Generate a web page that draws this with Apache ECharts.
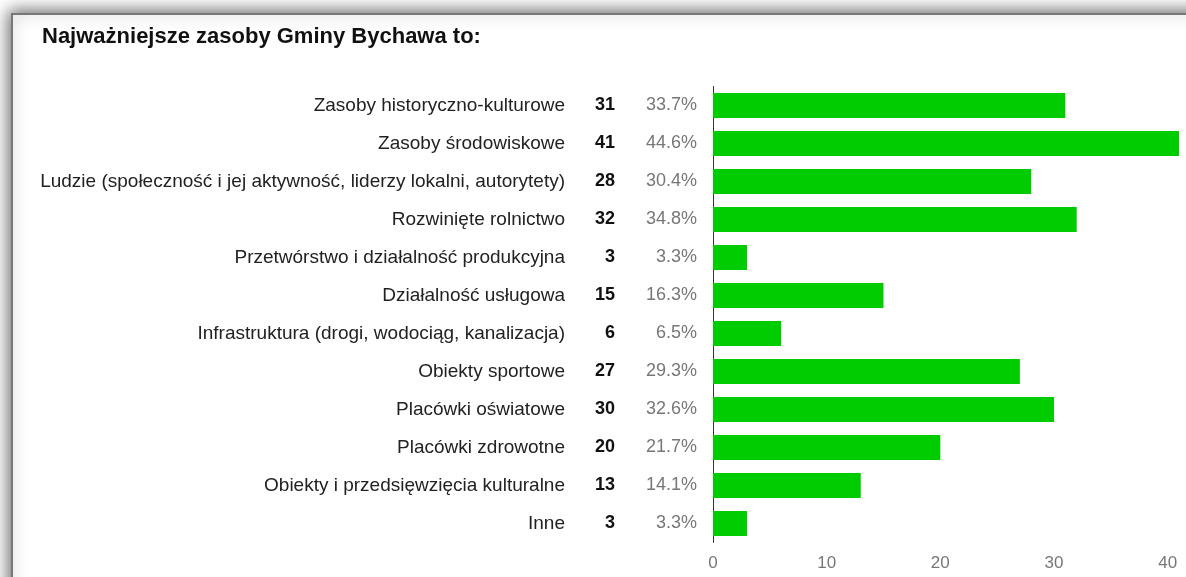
<!DOCTYPE html>
<html>
<head>
<meta charset="utf-8">
<script src="https://cdn.jsdelivr.net/npm/echarts@6/dist/echarts.min.js"></script>
<style>
  html, body { margin: 0; padding: 0; background: #fff; }
  #chart { width: 1186px; height: 577px; }
</style>
</head>
<body>
<div id="chart"></div>
<script>
// answers (categories), counts and shares
var categories = [
    'Zasoby historyczno-kulturowe',
    'Zasoby środowiskowe',
    'Ludzie (społeczność i jej aktywność, liderzy lokalni, autorytety)',
    'Rozwinięte rolnictwo',
    'Przetwórstwo i działalność produkcyjna',
    'Działalność usługowa',
    'Infrastruktura (drogi, wodociąg, kanalizacja)',
    'Obiekty sportowe',
    'Placówki oświatowe',
    'Placówki zdrowotne',
    'Obiekty i przedsięwzięcia kulturalne',
    'Inne'
];
var counts = [31, 41, 28, 32, 3, 15, 6, 27, 30, 20, 13, 3];
var percents = ['33.7%', '44.6%', '30.4%', '34.8%', '3.3%', '16.3%', '6.5%', '29.3%', '32.6%', '21.7%', '14.1%', '3.3%'];
var xTicks = [0, 10, 20, 30, 40];

var font = 'Arial, "Liberation Sans", sans-serif';

var chart = echarts.init(document.getElementById('chart'));

var option = {
    backgroundColor: '#fff',
    animation: false,
    title: {
        text: 'Najważniejsze zasoby Gminy Bychawa to:',
        left: 37,
        top: 21,
        textStyle: {
            fontFamily: font,
            fontSize: 22,
            fontWeight: 'bold',
            color: '#111'
        }
    },
    // frame with shadow at top/left
    graphic: [{
        type: 'rect',
        z: -10,
        shape: {x: 12, y: 14, width: 1400, height: 800},
        style: {
            fill: '#fff',
            stroke: '#777',
            lineWidth: 2,
            shadowBlur: 16,
            shadowColor: 'rgba(0,0,0,0.6)',
            shadowOffsetX: -2,
            shadowOffsetY: -2
        },
        silent: true
    }],
    grid: {
        left: 713,
        right: 7,
        top: 86.5,
        bottom: 34.5
    },
    xAxis: {
        type: 'value',
        min: 0,
        max: 41,
        interval: 10,
        splitLine: {show: false},
        axisLine: {show: false},
        axisTick: {show: false},
        axisLabel: {
            margin: 12,
            fontFamily: font,
            fontSize: 17,
            color: '#777',
            showMaxLabel: false,
            formatter: function (v) {
                return xTicks.indexOf(v) >= 0 ? String(v) : '';
            }
        }
    },
    yAxis: {
        type: 'category',
        inverse: true,
        data: categories,
        axisTick: {show: false},
        axisLine: {show: true, lineStyle: {color: '#333', width: 1}},
        axisLabel: {
            margin: 16,
            fontFamily: font,
            formatter: function (v, i) {
                return '{n|' + v + '}{c|' + counts[i] + '}{p|' + percents[i] + '}';
            },
            rich: {
                n: {fontFamily: font, fontSize: 19, color: '#222', align: 'right'},
                c: {fontFamily: font, fontSize: 18, color: '#111', fontWeight: 'bold', width: 50, align: 'right'},
                p: {fontFamily: font, fontSize: 18, color: '#777', width: 82, align: 'right'}
            }
        }
    },
    series: [{
        type: 'bar',
        data: counts,
        barWidth: 25,
        itemStyle: {color: '#00cc00'}
    }]
};

chart.setOption(option);
</script>
</body>
</html>
